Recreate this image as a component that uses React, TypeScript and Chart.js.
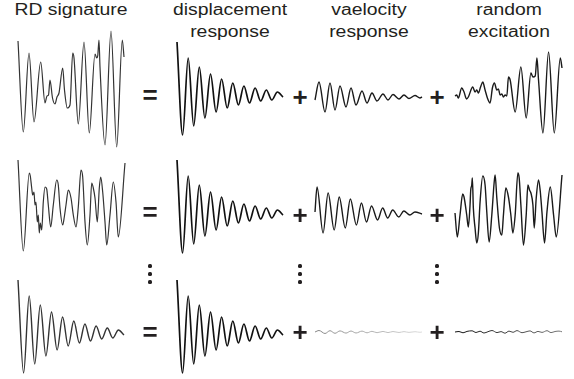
import React, { useEffect, useRef } from "react";
import { Chart, registerables } from "chart.js";

Chart.register(...registerables);

// ---- column titles ----
const titleRD = ["RD signature"];
const titleDisp = ["displacement", "response"];
const titleVel = ["vaelocity", "response"];
const titleRand = ["random", "excitation"];

// ---- displacement (free decay) response, extrema ----
const dispTime = [0, 5.6, 11.2, 16.7, 22.3, 27.9, 33.5, 39.1, 44.6, 50.2, 55.8, 61.4, 66.9, 72.5, 78.1, 83.7, 89.3, 94.8, 100.4, 106];
const dispValue = [53, -40, 37, -31, 28, -23, 21, -17, 16, -13, 12, -10, 9, -8, 7, -6, 5, -5, 3, -2];

// ---- velocity response ----
const vel1Time = [0, 4, 10, 15, 20, 25, 31, 36, 41, 47, 52, 57, 62, 68, 73, 78, 84, 89, 94, 100, 105, 107];
const vel1Value = [-3, 15, -15, 14, -13, 11, -10, 9, -8, 6, -6, 4, -4, 3, -3, 2.5, -2, 2, -1.5, 1.5, -1, 0];
const vel2Time = [1, 3, 9, 14, 20, 25, 31, 36, 42, 47, 52, 57, 63, 68, 73, 78, 84, 89, 95, 100, 107];
const vel2Value = [1, 26, -20, 20, -17, 16, -15, 14, -12, 10, -9, 7, -7, 5, -5, 3, -4, 2, -2, 1, -1];
const vel3Time = [0, 4, 10, 15, 20, 25, 31, 36, 41, 47, 52, 57, 62, 68, 73, 78, 84, 89, 94, 100, 105, 107];
const vel3Value = [0, 1.5, -1.5, 1.3, -1.3, 1.1, -1.1, 1, -1, 0.9, -0.8, 0.7, -0.7, 0.6, -0.6, 0.5, -0.5, 0.4, -0.4, 0.3, -0.3, 0];

// ---- random excitation ----
const rand1Time = [0, 1.7, 3.3, 6.7, 9, 11.5, 13.3, 17.7, 20, 21.7, 23.3, 25.5, 27.7, 30, 32.3, 35, 37.3, 39.3, 41.7, 43.3, 45, 46.7, 48.3, 50, 51.7, 53.3, 55, 60, 65.7, 71, 75.7, 77.7, 80, 81.7, 83.3, 87.7, 93.3, 99, 105, 106.7];
const rand1Value = [1, 2, -1, 9, 5, -2, 0, 10, 5, 7, 4, 10, 15, 7, -1, -6, 9, 14, 7, 8, 2, 3, 0, 2, 1, 20, 17, -15, 30, -21, 24, 20, 21, 39, 17, -36, 45, -36, 39, 29];
const rand2Time = [0, 2.3, 5, 7.7, 9, 11.7, 13.3, 15, 15.7, 16.7, 17.3, 18.3, 20, 21.7, 23.3, 25, 27.7, 30, 31.7, 34, 36.7, 39, 40, 41.7, 44.3, 46.7, 48.3, 50.7, 53.3, 55.7, 57.7, 60, 62.7, 64, 65.7, 68.3, 71, 72.7, 74.3, 75.7, 77.7, 79, 81, 83.3, 85, 86.7, 89.3, 91.7, 95, 98.3, 101, 106.7];
const rand2Value = [0, -24, -2, 19, 16, -2, -14, 8, 23, 28, 35, 5, -15, -30, -20, 11, 37, 28, 1, -29, -2, 30, 38, 15, -15, -22, -2, 25, 16, -2, -20, -2, 40, 35, 8, -32, -2, 28, 23, 20, 8, -15, 15, 33, 22, 1, -30, 1, 26, -2, -24, 38];
const rand3Time = [0, 4, 8, 12, 17, 21, 25, 29, 33, 37, 42, 46, 50, 54, 58, 62, 67, 71, 75, 79, 83, 87, 92, 96, 100, 104, 107];
const rand3Value = [0, 0.5, -0.8, 0.6, 1.2, -0.5, 0.8, -1, 0.3, 1.5, -0.6, 0.4, -1.2, 0.9, -0.3, 1.4, -0.7, 0.2, 1.1, -0.9, 0.6, -0.4, 1.3, -0.6, 0.5, 0.9, 0.2];

// ---- RD signatures ----
const rd1Time = [0, 5.3, 11, 16, 22.7, 27, 29, 30.5, 32, 34.5, 37, 39, 41, 44.7, 46.5, 49.3, 52, 54.7, 56, 60.3, 66, 71.3, 77, 78.7, 79.7, 81, 82, 87, 93, 98.7, 104.3, 106];
const rd1Value = [54, -37, 42, -27, 33, -8, -1, 0, 15, -3, -9, -2, 2, 27, 5, -13, -10, 42, 37, -29, 53, -38, 41, 37, 39, 55, 28, -50, 64, -52, 55, 38];
const rd2Time = [0, 5.3, 11.3, 12.3, 13.7, 14.7, 16, 17, 18, 19.3, 20.3, 21.3, 22.3, 23.7, 25.3, 27, 28.7, 30.3, 32.7, 35.3, 38.7, 40.3, 42, 44.7, 46.3, 48, 50.3, 53, 55.3, 58, 60.3, 63, 64.7, 67, 69.3, 72, 73.7, 75.3, 77, 79.3, 81.3, 82.7, 84.7, 87, 88.7, 92, 95.3, 98, 100.3, 107];
const rd2Value = [53, -38, 40, 37, 25, 18, 21, 8, 11, -9, -2, -20, -10, -17, 11, 26, 24, 8, -14, 8, 33, 28, 5, -12, -4, 8, 23, 15, -2, -14, 6, 43, 36, -9, -32, -2, 30, 25, 15, -9, 25, 36, 21, -9, -32, -2, 31, 11, -24, 50];

const INK = "#231f20";
const FONT = '"Liberation Sans", Arial, Helvetica, sans-serif';

type WaveProps = {
  left: number;
  center: number;
  width: number;
  times: number[];
  values: number[];
  color: string;
  fadeTo?: string;
  lineWidth: number;
};

function Wave({ left, center, width, times, values, color, fadeTo, lineWidth }: WaveProps) {
  const ref = useRef<HTMLCanvasElement>(null);
  const pad = 3;
  const half = 70;
  useEffect(() => {
    const t0 = times[0];
    const t1 = times[times.length - 1];
    const k = (t1 - t0) / width;
    const stroke = fadeTo
      ? (ctx: any) => {
          const c = ctx.chart;
          const g = c.ctx.createLinearGradient(pad, 0, pad + width, 0);
          g.addColorStop(0, color);
          g.addColorStop(1, fadeTo);
          return g;
        }
      : color;
    const chart = new Chart(ref.current as HTMLCanvasElement, {
      type: "line",
      data: {
        datasets: [
          {
            data: times.map((t, i) => ({ x: t, y: values[i] })),
            borderColor: stroke as any,
            borderWidth: lineWidth,
            pointRadius: 0,
            cubicInterpolationMode: "monotone",
            fill: false,
            clip: false as any,
          },
        ],
      },
      options: {
        animation: false,
        responsive: false,
        events: [],
        layout: { padding: 0 },
        plugins: { legend: { display: false }, tooltip: { enabled: false } },
        scales: {
          x: { type: "linear", display: false, min: t0 - pad * k, max: t1 + pad * k },
          y: { type: "linear", display: false, min: -half, max: half },
        },
      },
    });
    return () => chart.destroy();
  }, []);
  return (
    <canvas
      ref={ref}
      width={width + 2 * pad}
      height={2 * half}
      style={{ position: "absolute", left: left - pad, top: center - half, width: width + 2 * pad, height: 2 * half }}
    />
  );
}

function Title({ cx, lines }: { cx: number; lines: string[] }) {
  return (
    <div
      style={{
        position: "absolute",
        left: cx,
        top: -1,
        transform: "translateX(-50%) scaleX(1.21)",
        font: `16px ${FONT}`,
        lineHeight: "21.5px",
        textAlign: "center",
        whiteSpace: "nowrap",
        color: INK,
      }}
    >
      {lines.map((l, i) => (
        <div key={i}>{l}</div>
      ))}
    </div>
  );
}

function Op({ x, y, s }: { x: number; y: number; s: string }) {
  return (
    <div
      style={{
        position: "absolute",
        left: x,
        top: y,
        transform: "translate(-50%, -50%)",
        font: `bold 26px ${FONT}`,
        lineHeight: "26px",
        color: INK,
      }}
    >
      {s}
    </div>
  );
}

function VDots({ x }: { x: number }) {
  return (
    <>
      {[266, 274, 282].map((y) => (
        <div
          key={y}
          style={{ position: "absolute", left: x - 1.6, top: y - 1.6, width: 3.2, height: 3.2, borderRadius: "50%", background: INK }}
        />
      ))}
    </>
  );
}

export default function App() {
  const rdColor = "#333";
  const dispColor = "#111";
  return (
    <div style={{ position: "fixed", left: 0, top: 0, width: 574, height: 379, overflow: "hidden", background: "#fff" }}>
      <Title cx={71} lines={titleRD} />
      <Title cx={230} lines={titleDisp} />
      <Title cx={369} lines={titleVel} />
      <Title cx={509} lines={titleRand} />

      {/* row 1 */}
      <Wave left={18} center={95} width={106} times={rd1Time} values={rd1Value} color={rdColor} lineWidth={1.2} />
      <Wave left={177} center={95} width={106} times={dispTime} values={dispValue} color={dispColor} lineWidth={1.7} />
      <Wave left={315} center={97} width={107} times={vel1Time} values={vel1Value} color="#1a1a1a" lineWidth={1.4} />
      <Wave left={455} center={97} width={107} times={rand1Time} values={rand1Value} color="#1a1a1a" lineWidth={1.4} />

      {/* row 2 */}
      <Wave left={18} center={213} width={107} times={rd2Time} values={rd2Value} color={rdColor} lineWidth={1.2} />
      <Wave left={177} center={213} width={106} times={dispTime} values={dispValue} color={dispColor} lineWidth={1.7} />
      <Wave left={315} center={213} width={107} times={vel2Time} values={vel2Value} color="#1a1a1a" lineWidth={1.4} />
      <Wave left={455} center={213} width={107} times={rand2Time} values={rand2Value} color="#1a1a1a" lineWidth={1.4} />

      {/* row 3 */}
      <Wave left={18} center={333} width={106} times={dispTime} values={dispValue} color={rdColor} lineWidth={1.4} />
      <Wave left={177} center={333} width={106} times={dispTime} values={dispValue} color={dispColor} lineWidth={1.7} />
      <Wave left={315} center={332} width={107} times={vel3Time} values={vel3Value} color="#777" fadeTo="#d8d8d8" lineWidth={0.9} />
      <Wave left={455} center={332} width={107} times={rand3Time} values={rand3Value} color="#111" fadeTo="#777" lineWidth={1} />

      <Op x={150} y={95} s="=" />
      <Op x={300} y={97} s="+" />
      <Op x={437} y={97} s="+" />
      <Op x={150} y={212} s="=" />
      <Op x={300} y={215} s="+" />
      <Op x={437} y={215} s="+" />
      <Op x={150} y={332} s="=" />
      <Op x={300} y={332} s="+" />
      <Op x={437} y={332} s="+" />

      <VDots x={150} />
      <VDots x={300} />
      <VDots x={437} />
    </div>
  );
}
